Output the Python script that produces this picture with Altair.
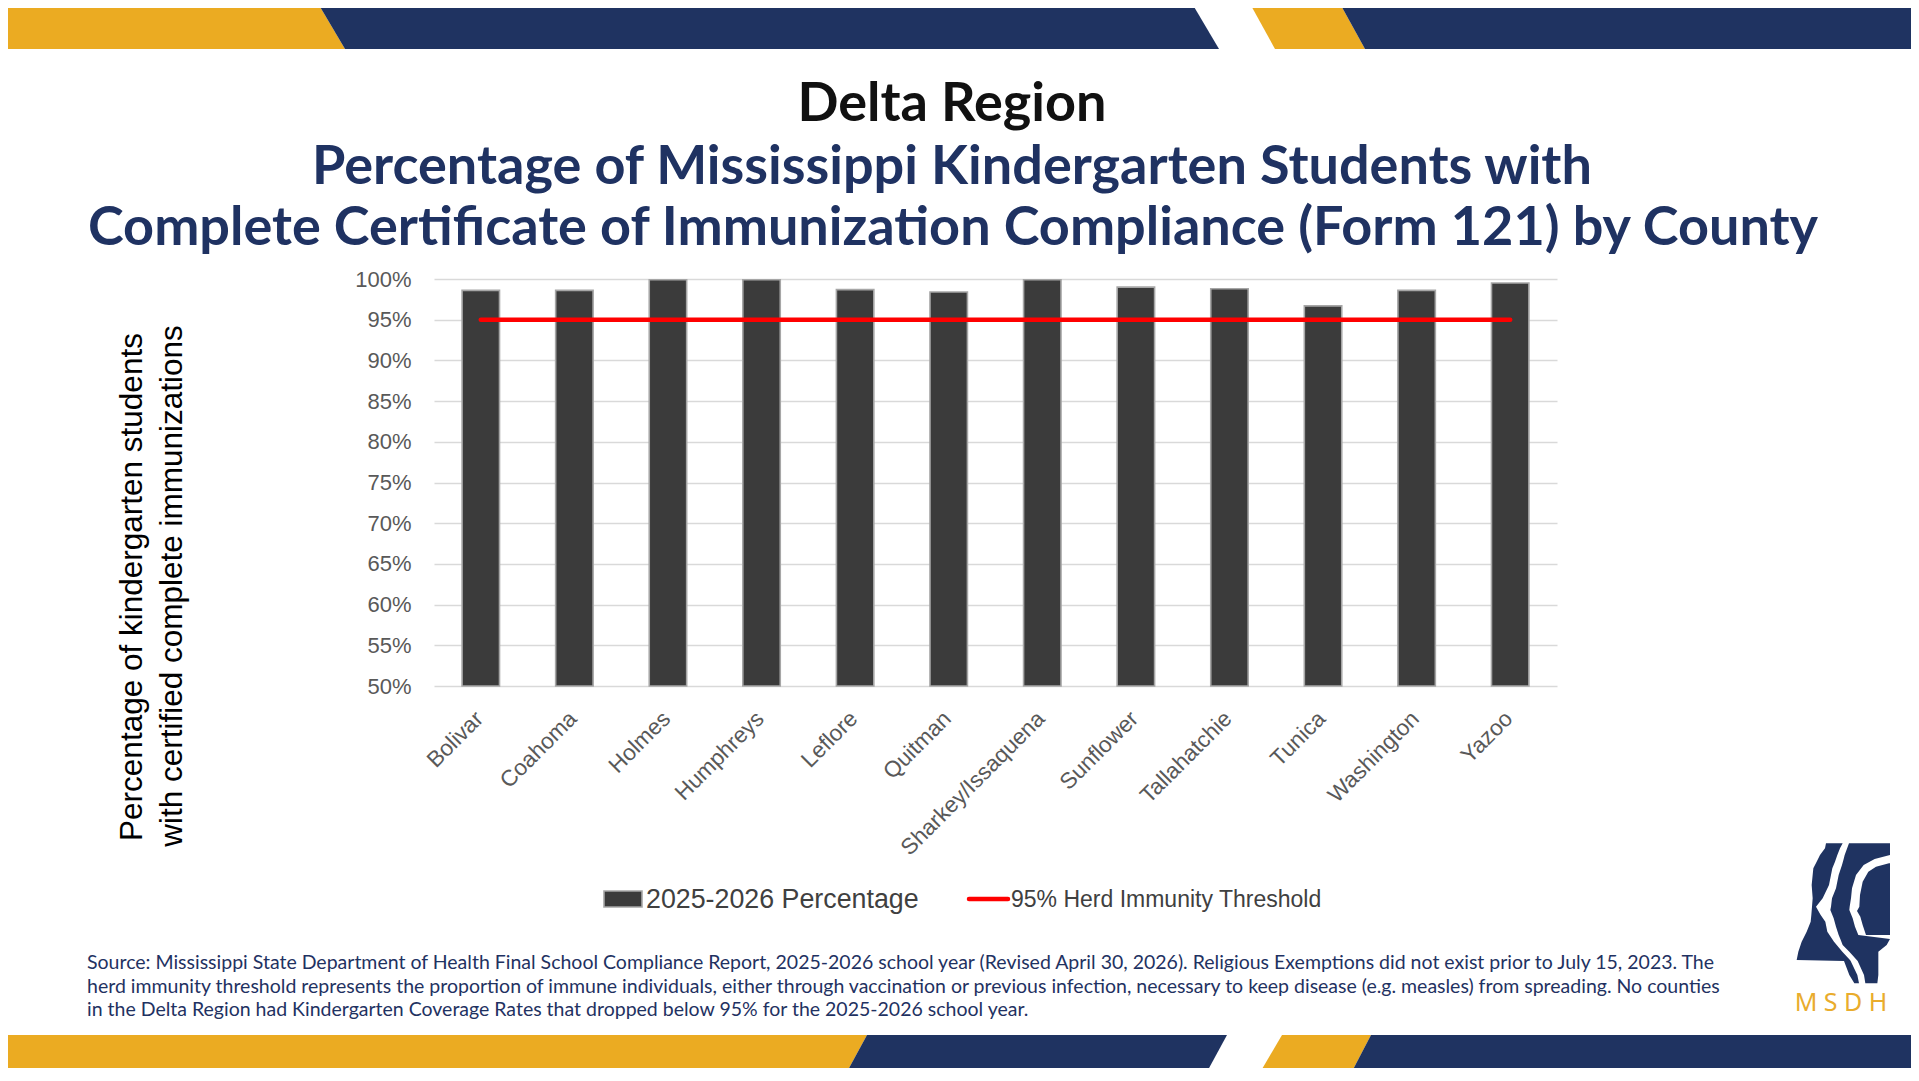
import altair as alt
import pandas as pd

# ---------------- data ----------------
counties = ["Bolivar", "Coahoma", "Holmes", "Humphreys", "Leflore", "Quitman",
            "Sharkey/Issaquena", "Sunflower", "Tallahatchie", "Tunica",
            "Washington", "Yazoo"]
pct_2025 = [98.6, 98.6, 99.9, 99.9, 98.7, 98.4, 99.9, 99.0, 98.8, 96.7, 98.6, 99.5]
threshold = [95, 95, 95, 95, 95, 95, 95, 95, 95, 95, 95, 95]
y_ticks = [50, 55, 60, 65, 70, 75, 80, 85, 90, 95, 100]

title_main = "Delta Region"
title_sub = ["Percentage of Mississippi Kindergarten Students with",
             "Complete Certificate of Immunization Compliance (Form 121) by County"]
y_title = ["Percentage of kindergarten  students",
           "with certified complete immunizations"]
legend_labels = ["2025-2026 Percentage", "95% Herd Immunity Threshold"]
footnote = [
    "Source: Mississippi State Department of Health Final School Compliance Report, 2025-2026 school year (Revised April 30, 2026). Religious Exemptions did not exist prior to July 15, 2023. The",
    "herd immunity threshold represents the proportion of immune individuals, either through vaccination or previous infection, necessary to keep disease (e.g. measles) from spreading. No counties",
    "in the Delta Region had Kindergarten Coverage Rates that dropped below 95% for the 2025-2026 school year.",
]
logo_text = "M S D H"

df = pd.DataFrame({"county": counties, "pct": pct_2025, "thr": threshold})

# ---------------- layout (page pixels) ----------------
PL, PT, W, H = 434, 279, 1123, 407
TOTAL_W, TOTAL_H = 1903, 1060
PAD = {"left": PL - 8, "top": PT - 8, "right": TOTAL_W - (PL - 8) - W,
       "bottom": TOTAL_H - (PT - 8) - H}

def X(p):
    return p - PL

def Y(p):
    return p - PT

NAVY = "#1f3361"
GOLD = "#ebab22"
TXT_NAVY = "#1f3262"

xs = alt.Scale(domain=[0, 1919], range=[-PL, 1919 - PL], nice=False, zero=False)
ys = alt.Scale(domain=[0, 1081], range=[-PT, 1081 - PT], nice=False, zero=False)

# banner polygons (decoration)
def para_down_right(pid, col, a, b, c, d, T, B):
    return [(pid, col, a, T, T), (pid, col, c, T, B), (pid, col, b, T, B), (pid, col, d, B, B)]

def para_down_left(pid, col, a, b, c, d, T, B):
    return [(pid, col, c, B, B), (pid, col, a, T, B), (pid, col, d, T, B), (pid, col, b, T, T)]

rows = []
T1, B1 = 0, 49
rows += [("t1", GOLD, 0, T1, B1), ("t1", GOLD, 316, T1, B1), ("t1", GOLD, 345, B1, B1)]
rows += para_down_right("t2", NAVY, 316, 1190, 345, 1219, T1, B1)
rows += para_down_right("t3", GOLD, 1248, 1338, 1275, 1365, T1, B1)
rows += [("t4", NAVY, 1338, T1, T1), ("t4", NAVY, 1365, T1, B1), ("t4", NAVY, 1919, T1, B1)]
T2, B2 = 1035, 1081
rows += [("b1", GOLD, 0, T2, B2), ("b1", GOLD, 842, T2, B2), ("b1", GOLD, 867, T2, T2)]
rows += para_down_left("b2", NAVY, 867, 1227, 842, 1202, T2, B2)
rows += para_down_left("b3", GOLD, 1282, 1371, 1255, 1347, T2, B2)
rows += [("b4", NAVY, 1347, B2, B2), ("b4", NAVY, 1371, T2, B2), ("b4", NAVY, 1919, T2, B2)]
band_df = pd.DataFrame(rows, columns=["pid", "col", "bx", "by1", "by2"])

band = alt.Chart(band_df).mark_area(strokeWidth=0).encode(
    x=alt.X("bx:Q", scale=xs, axis=None),
    y=alt.Y("by1:Q", scale=ys, axis=None, stack=None),
    y2="by2:Q",
    detail="pid:N",
    color=alt.Color("col:N", scale=None),
)

# logo silhouette (decoration), traced in a 3x grid anchored at page (1790, 835)
logo_shapes = {
    "s1": [(25, 108, 158), (40, 105, 150), (60, 90, 142), (80, 80, 135), (100, 70, 127),
           (150, 65, 117), (190, 68, 98), (215, 66, 78), (240, 64, 92), (260, 62, 106),
           (290, 50, 112), (320, 35, 132), (350, 25, 157), (375, 20, 180), (378, 162, 182),
           (420, 178, 202), (445, 193, 207)],
    "s2": [(25, 177, 300), (60, 164, 300), (72, 161, 254), (90, 156, 221), (120, 146, 198),
           (160, 138, 186), (190, 126, 183), (215, 123, 179), (225, 121, 178),
           (250, 131, 188), (275, 138, 195), (300, 146, 205), (312, 151, 300),
           (330, 158, 290), (350, 178, 265), (378, 203, 265), (420, 222, 265),
           (445, 226, 262)],
    "s3": [(85, 297, 300), (95, 258, 300), (110, 235, 300), (140, 218, 300),
           (180, 210, 300), (215, 208, 300), (228, 201, 300), (245, 211, 300),
           (270, 218, 300), (300, 228, 300)],
}
lrows = []
for k, pts in logo_shapes.items():
    for (v, a, b) in pts:
        lrows.append((k, 835 + v / 3, 1790 + a / 3, 1790 + b / 3))
logo_df = pd.DataFrame(lrows, columns=["sid", "ly", "lx1", "lx2"])
logo = alt.Chart(logo_df).mark_area(orient="horizontal", color=NAVY, strokeWidth=0).encode(
    y=alt.Y("ly:Q", scale=ys, axis=None),
    x=alt.X("lx1:Q", scale=xs, axis=None, stack=None),
    x2="lx2:Q",
    detail="sid:N",
)

decor = alt.layer(band, logo)

# ---------------- main chart ----------------
xenc = alt.X("county:N", sort=counties,
             scale=alt.Scale(paddingInner=0.6, paddingOuter=0.3),
             axis=alt.Axis(title=None, labelAngle=-45, labelAlign="right",
                           labelBaseline="top", labelPadding=21, labelOffset=-9,
                           labelFont="Liberation Sans", labelFontSize=22.5,
                           labelColor="#595959", ticks=False, domain=False,
                           grid=False, labelOverlap=False, labelLimit=500))
yenc = alt.Y("pct:Q", scale=alt.Scale(domain=[50, 100], nice=False, zero=False),
             axis=alt.Axis(values=y_ticks, labelExpr="datum.value + '%'", title=None,
                           grid=True, gridColor="#d9d9d9", gridWidth=1.3,
                           domain=False, ticks=False, labelPadding=23,
                           labelFont="Liberation Sans", labelFontSize=22,
                           labelColor="#595959"))

bars = alt.Chart(df).mark_bar(fill="#3b3b3b", stroke="#a6a6a6", strokeWidth=1.6).encode(
    x=xenc, y=yenc, y2=alt.datum(50))
line = alt.Chart(df).mark_line(color="#ff0000", strokeWidth=4.5, strokeCap="round").encode(
    x=alt.X("county:N", sort=counties), y=alt.Y("thr:Q"))
main = alt.layer(bars, line)

# ---------------- texts ----------------
def text_layer(s, x, y, **kw):
    return alt.Chart(alt.Data(values=[{"t": s}])).mark_text(**kw).encode(
        text="t:N", x=alt.value(X(x)), y=alt.value(Y(y)))

texts = [
    text_layer(title_main, 952, 121, font="Lato", fontWeight="bold", fontSize=54,
               color="#111111", align="center", baseline="alphabetic"),
    text_layer(title_sub[0], 952, 184, font="Lato", fontWeight="bold", fontSize=54,
               color=TXT_NAVY, align="center", baseline="alphabetic"),
    text_layer(title_sub[1], 953, 245, font="Lato", fontWeight="bold", fontSize=54,
               color=TXT_NAVY, align="center", baseline="alphabetic"),
    text_layer(y_title[0], 142, 587, font="Liberation Sans", fontSize=31.5, color="#000000",
               angle=270, align="center", baseline="alphabetic"),
    text_layer(y_title[1], 182, 586, font="Liberation Sans", fontSize=31.5, color="#000000",
               angle=270, align="center", baseline="alphabetic"),
    text_layer(legend_labels[0], 646, 900, font="Liberation Sans", fontSize=26.8,
               color="#404040", align="left", baseline="middle"),
    text_layer(legend_labels[1], 1011, 900, font="Liberation Sans", fontSize=23,
               color="#404040", align="left", baseline="middle"),
    text_layer(logo_text, 1841, 1003, font="Noto Sans", fontSize=25, color="#e9ac2d",
               align="center", baseline="middle"),
]
for s, yy in zip(footnote, [963, 987, 1010]):
    texts.append(text_layer(s, 87, yy, font="Lato", fontSize=19.5, color=TXT_NAVY,
                            align="left", baseline="middle"))

one = alt.Data(values=[{"a": 1}])
leg_bar = alt.Chart(one).mark_rect(fill="#3b3b3b", stroke="#a6a6a6", strokeWidth=1.6).encode(
    x=alt.value(X(604)), x2=alt.value(X(642)), y=alt.value(Y(891)), y2=alt.value(Y(907)))
leg_line = alt.Chart(one).mark_rule(color="#ff0000", strokeWidth=4.5, strokeCap="round").encode(
    x=alt.value(X(969)), x2=alt.value(X(1008)), y=alt.value(Y(899)))

chart = alt.layer(decor, main, leg_bar, leg_line, *texts).resolve_scale(
    x="independent", y="independent"
).properties(
    width=W, height=H, padding=PAD, background="white",
    autosize=alt.AutoSizeParams(type="none"),
).configure_view(strokeWidth=0)

chart.save("out.html", embed_options={"renderer": "svg", "actions": False})
